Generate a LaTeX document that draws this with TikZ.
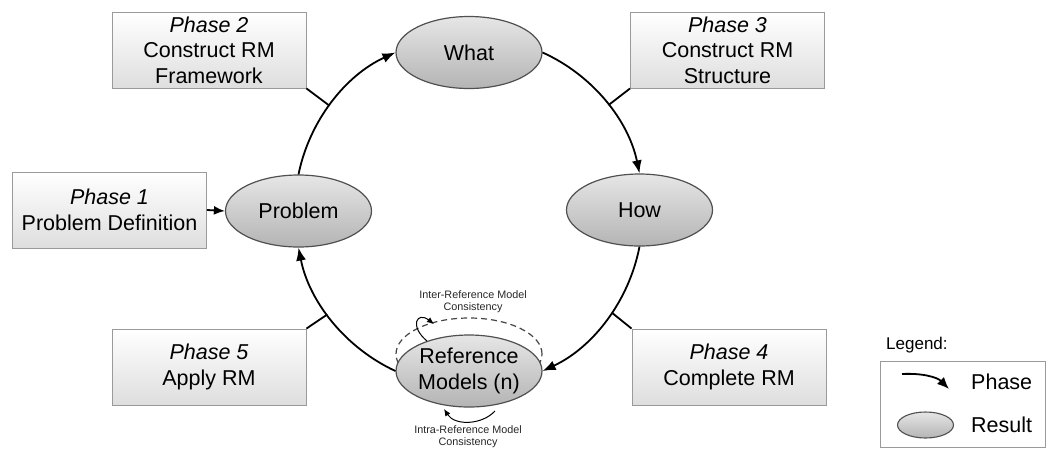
\documentclass[tikz,border=0pt]{standalone}
\usepackage{fontspec}
\setmainfont{Liberation Sans}
\usetikzlibrary{shapes.geometric,arrows.meta}
\definecolor{boxedge}{HTML}{9A9A9A}
\definecolor{boxbot}{HTML}{DEDEDE}
\definecolor{elledge}{HTML}{505050}
\definecolor{elltop}{HTML}{E6E6E6}
\definecolor{ellbot}{HTML}{B4B4B4}
\definecolor{dashcol}{HTML}{444444}
\newcommand\mainsize{\fontsize{21.5pt}{25.5pt}\selectfont}
\newcommand\notesize{\fontsize{10.8pt}{12.5pt}\selectfont}
\newcommand\legsize{\fontsize{17pt}{20pt}\selectfont}
\begin{document}
\begin{tikzpicture}[x=1pt,y=-1pt,
  phasebox/.style={draw=boxedge, line width=0.9pt, top color=white, bottom color=boxbot,
    minimum width=194pt, minimum height=76pt, inner sep=0pt, align=center, font=\mainsize},
  result/.style={ellipse, draw=elledge, line width=1.2pt, top color=elltop, bottom color=ellbot,
    minimum width=146pt, minimum height=72pt, inner sep=0pt, align=center, font=\mainsize},
  phasearrow/.style={line width=1.8pt, -{Latex[length=13pt,width=10pt]}},
  link/.style={line width=1.8pt},
  thinarrow/.style={line width=1pt, -{Latex[length=7pt,width=6pt]}},
  note/.style={font=\notesize, align=center, text=black!85},
]
\useasboundingbox (0,0) rectangle (1046,448);

% phase boxes
\node[phasebox] (p1) at (109.5,210) {\textit{Phase 1}\\Problem Definition};
\node[phasebox] (p2) at (209,50)    {\textit{Phase 2}\\Construct RM\\Framework};
\node[phasebox] (p3) at (727.5,50)  {\textit{Phase 3}\\Construct RM\\Structure};
\node[phasebox] (p4) at (729,367)   {\textit{Phase 4}\\Complete RM};
\node[phasebox] (p5) at (209,367)   {\textit{Phase 5}\\Apply RM};

% dashed outline behind the reference models result
\node[ellipse, draw=dashcol, dashed, dash pattern=on 6pt off 4pt, line width=1.2pt,
  minimum width=146pt, minimum height=72pt] (refdash) at (469,354) {};

% results
\node[result] (problem) at (298.5,211) {Problem};
\node[result] (what)    at (469,52.5)  {What};
\node[result] (how)     at (639.5,210) {How};
\node[result] (refm)    at (469,371)   {Reference\\Models (n)};

% cycle of phases
\draw[phasearrow] (problem.north) to[bend left=27, looseness=0.9] coordinate[pos=0.47] (j2) (what.west);
\draw[phasearrow] (what.east) to[bend left=27, looseness=0.9] coordinate[pos=0.53] (j3) (how.north);
\draw[phasearrow] (how.south) to[bend left=27, looseness=0.9] coordinate[pos=0.44] (j4) (refm.east);
\draw[phasearrow] (refm.west) to[bend left=27, looseness=0.9] coordinate[pos=0.55] (j5) (problem.south);
\draw[line width=1.8pt, -{Latex[length=11pt,width=9pt]}] (p1.east) -- (problem.west);

% phase labels attached to the cycle
\draw[link] (p2.south east) -- (j2);
\draw[link] (p3.south west) -- (j3);
\draw[link] (p4.north west) -- (j4);
\draw[link] (p5.north east) -- (j5);

% consistency notes
\node[note] (inter) at (473,301.5) {Inter-Reference Model\\Consistency};
\node[note] (intra) at (468,436.5) {Intra-Reference Model\\Consistency};
\coordinate (ia) at (427,341);
\coordinate (ib) at (434,324);
\draw[thinarrow] (ia) .. controls (409,326) and (417,311) .. (ib);
\coordinate (ra) at (495,411);
\coordinate (rb) at (444,409);
\draw[thinarrow] (ra) .. controls (482,425) and (455,426) .. (rb);

% legend
\node[font=\legsize, anchor=west, inner sep=0pt] (legtitle) at (886,345) {Legend:};
\node[draw=boxedge, line width=1pt, minimum width=165pt, minimum height=86pt, inner sep=0pt] (legbox) at (962.5,404) {};
\coordinate (la) at (902,374);
\coordinate (lb) at (949,389);
\draw[line width=1.8pt, -{Latex[length=12pt,width=10pt]}] (la) .. controls (922,373) and (937,377) .. (lb);
\node[font=\mainsize, anchor=west, inner sep=0pt] (legphase) at (971,382) {Phase};
\node[ellipse, draw=elledge, line width=1.1pt, top color=elltop, bottom color=ellbot,
  minimum width=56pt, minimum height=26pt, inner sep=0pt] (legell) at (925.5,425) {};
\node[font=\mainsize, anchor=west, inner sep=0pt] (legresult) at (971,425) {Result};
\end{tikzpicture}
\end{document}
